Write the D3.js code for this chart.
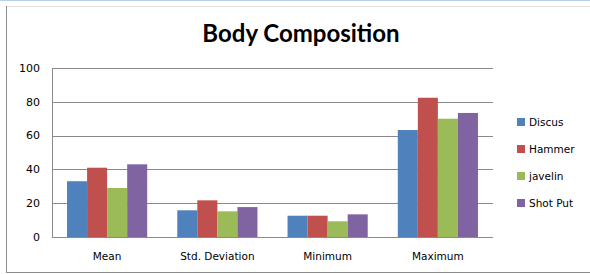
<!DOCTYPE html>
<html>
<head>
<meta charset="utf-8">
<script src="https://cdn.jsdelivr.net/npm/d3@7"></script>
<style>
  body { margin: 0; background: #fff; }
  svg { display: block; }
</style>
</head>
<body>
<div id="plot"></div>
<script>

var categories = ["Mean", "Std. Deviation", "Minimum", "Maximum"];
var series = ["Discus", "Hammer", "javelin", "Shot Put"];
var colors = ["#4f81bd", "#c0504d", "#9bbb59", "#8064a2"];

var discus = [33, 15.8, 12.6, 63.3];
var hammer = [41, 21.7, 12.6, 82.4];
var javelin = [29, 15.2, 9.3, 70];
var shotPut = [43, 17.7, 13.4, 73.4];

var yTicks = [0, 20, 40, 60, 80, 100];

var values = [discus, hammer, javelin, shotPut];

window.onload = function(){

    buildChart();

};

function buildChart(){

    var width = 590;
    var height = 274;

    var margin = { left: 52, top: 68, right: 97, bottom: 37 };

    var svg = d3.select("#plot")
                .append("svg")
                .attr("width", width)
                .attr("height", height);

    // frame
    svg.append("line")
        .attr("x1", 0).attr("x2", width)
        .attr("y1", 0.5).attr("y2", 0.5)
        .style("stroke", "#b7d3ea");

    svg.append("line")
        .attr("x1", 6).attr("x2", width)
        .attr("y1", 6.5).attr("y2", 6.5)
        .style("stroke", "#e3e3e3");

    svg.append("line")
        .attr("x1", 6.5).attr("x2", 6.5)
        .attr("y1", 6).attr("y2", 272)
        .style("stroke", "#8c8c8c");

    svg.append("line")
        .attr("x1", 6).attr("x2", width)
        .attr("y1", 272.5).attr("y2", 272.5)
        .style("stroke", "#8c8c8c");

    svg.append("text")
        .attr("x", 301)
        .attr("y", 42)
        .attr("text-anchor", "middle")
        .style("font-family", "Lato, 'Open Sans', sans-serif")
        .style("font-weight", "bold")
        .style("font-size", "24px")
        .style("fill", "#000")
        .text("Body Composition");

    var xScale = d3.scaleBand()
        .domain(categories)
        .range([margin.left, width - margin.right]);

    var inner = d3.scaleBand()
        .domain(series)
        .range([0, xScale.bandwidth()])
        .paddingOuter(0.75);

    var yScale = d3.scaleLinear()
        .domain([0, 100])
        .range([height - margin.bottom, margin.top]);

    // gridlines
    svg.append("g")
        .selectAll("line")
        .data(yTicks)
        .enter()
        .append("line")
        .attr("x1", margin.left)
        .attr("x2", width - margin.right)
        .attr("y1", d => Math.round(yScale(d)) + 0.5)
        .attr("y2", d => Math.round(yScale(d)) + 0.5)
        .style("stroke", "#8a8a8a");

    svg.append("line")
        .attr("x1", margin.left + 0.5).attr("x2", margin.left + 0.5)
        .attr("y1", yScale(100)).attr("y2", yScale(0))
        .style("stroke", "#8a8a8a");

    svg.append("g")
        .selectAll("text")
        .data(yTicks)
        .enter()
        .append("text")
        .attr("x", 40)
        .attr("y", d => yScale(d))
        .attr("dy", "0.35em")
        .attr("text-anchor", "end")
        .style("font-family", "'DejaVu Sans', sans-serif")
        .style("font-size", "11px")
        .style("fill", "#000")
        .text(d => d);

    // bars
    var groups = svg.append("g")
        .selectAll("g")
        .data(categories)
        .enter()
        .append("g")
        .attr("transform", d => "translate(" + xScale(d) + ",0)");

    groups.selectAll("rect")
        .data((c, i) => series.map((s, j) => ({ s: s, v: values[j][i], j: j })))
        .enter()
        .append("rect")
        .attr("x", d => inner(d.s))
        .attr("width", inner.bandwidth())
        .attr("y", d => yScale(d.v))
        .attr("height", d => yScale(0) - yScale(d.v))
        .style("fill", d => colors[d.j]);

    svg.append("g")
        .selectAll("text")
        .data(categories)
        .enter()
        .append("text")
        .attr("x", d => xScale(d) + xScale.bandwidth() / 2)
        .attr("y", 260)
        .attr("text-anchor", "middle")
        .style("font-family", "'DejaVu Sans', sans-serif")
        .style("font-size", "10.5px")
        .style("fill", "#000")
        .text(d => d);

    // legend
    var legend = svg.append("g")
        .selectAll("g")
        .data(series)
        .enter()
        .append("g")
        .attr("transform", (d, i) => "translate(517," + (122 + i * 27) + ")");

    legend.append("rect")
        .attr("x", 0)
        .attr("y", -4)
        .attr("width", 8)
        .attr("height", 8)
        .style("fill", (d, i) => colors[i]);

    legend.append("text")
        .attr("x", 12)
        .attr("y", 0)
        .attr("dy", "0.35em")
        .style("font-family", "'DejaVu Sans', sans-serif")
        .style("font-size", "10.5px")
        .style("fill", "#000")
        .text(d => d);

}

</script>
</body>
</html>
